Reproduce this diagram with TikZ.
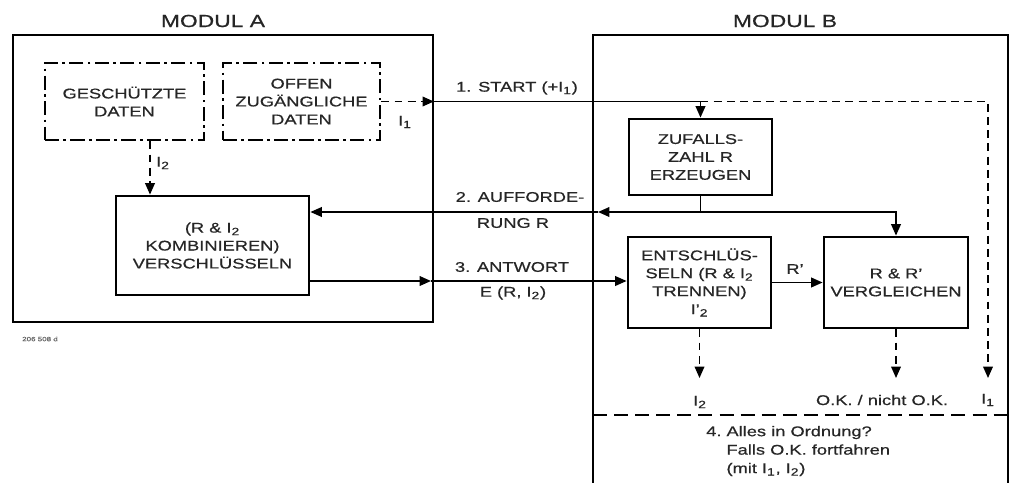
\documentclass[tikz,border=0pt]{standalone}
\usepackage{fontspec}
\setmainfont{Liberation Sans}[FakeStretch=1.3, FakeBold=0.6]
\usetikzlibrary{arrows.meta}
\newcommand{\Isub}[1]{I\textsubscript{#1}}
\begin{document}
\begin{tikzpicture}[x=.02cm, y=-.02cm,
    every node/.style={font=\fontsize{8}{10.2}\selectfont, text=black!85},
    block/.style={draw, line width=1.6pt, align=center, inner sep=1pt},
    datbox/.style={block, dash pattern=on 8pt off 2.5pt on 1.5pt off 2.5pt},
    modul/.style={draw, line width=1.1pt, inner sep=0pt},
    titel/.style={font=\fontsize{10}{12}\selectfont},
    flow/.style={line width=.9pt, -{Triangle[length=6.5pt,width=5.5pt]}},
    dflow/.style={flow, dash pattern=on 4.5pt off 3pt},
    trenn/.style={line width=1pt, dash pattern=on 8pt off 4pt}]
    \useasboundingbox (0,0) rectangle (1011,483);

    % Modul A und Modul B.
    \node[modul, minimum width=8.4cm, minimum height=5.74cm] (modA) at (223,178.5) {};
    \node[titel] (titelA) at (213,21) {MODUL A};
    \draw[line width=1.1pt] (593,483) -- (593,35) -- (1008,35) -- (1008,483);
    \node[titel] (titelB) at (785,21) {MODUL B};

    % Datenbereiche und Bloecke.
    \node[datbox, minimum width=3.18cm, minimum height=1.54cm] (geschuetzt) at (124.5,101.5) {GESCHÜTZTE\\DATEN};
    \node[datbox, minimum width=3.14cm, minimum height=1.54cm] (offen) at (301.5,101.5) {OFFEN\\ZUGÄNGLICHE\\DATEN};
    \node[block, minimum width=3.86cm, minimum height=1.98cm] (verschl) at (212.5,245.5) {(R \& \Isub{2}\\KOMBINIEREN)\\VERSCHLÜSSELN};
    \node[block, minimum width=2.86cm, minimum height=1.52cm] (zufall) at (700.5,157) {ZUFALLS-\\ZAHL R\\ERZEUGEN};
    \node[block, minimum width=2.86cm, minimum height=1.82cm] (entschl) at (699.5,282.5) {ENTSCHLÜS-\\SELN (R \& \Isub{2}\\TRENNEN)\\I'\textsubscript{2}};
    \node[block, minimum width=2.88cm, minimum height=1.82cm] (vergl) at (896,282.5) {R \& R'\\VERGLEICHEN};

    % 1. Start (+I1).
    \coordinate (eckeA1) at (modA.east |- offen.east);
    \coordinate (abzweig1) at (zufall.north |- offen.east);
    \coordinate (endeI1) at (988,378);
    \draw[dflow] (offen.east) -- (eckeA1);
    \draw[flow] (eckeA1) -| (zufall.north);
    \draw[dflow] (abzweig1) -| (endeI1);

    % 2. Aufforderung R.
    \coordinate (abzweig2) at (700.5,212);
    \coordinate (eckeB2) at (598,212);
    \draw[line width=.9pt] (zufall.south) -- (abzweig2);
    \draw[flow] (abzweig2) -- (eckeB2);
    \draw[flow] (eckeB2) -- (verschl.east |- eckeB2);
    \draw[flow] (abzweig2) -| (vergl.north);

    % 3. Antwort E(R, I2).
    \coordinate (eckeA3) at (431,281);
    \draw[flow] (verschl.east |- eckeA3) -- (eckeA3);
    \draw[flow] (eckeA3) -- (entschl.west |- eckeA3);
    \draw[flow] (entschl.east) -- (vergl.west);

    % I2 aus den geschuetzten Daten, Ausgaenge von Modul B.
    \coordinate (spalteI2) at (150,0);
    \draw[dflow] (geschuetzt.south -| spalteI2) -- (verschl.north -| spalteI2);
    \coordinate (endeI2) at (entschl.south |- endeI1);
    \coordinate (endeOK) at (vergl.south |- endeI1);
    \draw[dflow] (entschl.south) -- (endeI2);
    \draw[dflow] (vergl.south) -- (endeOK);
    \draw[trenn] (593,415) -- (1008,415);

    % Beschriftungen.
    \node (lblI1) at (405,122) {\Isub{1}};
    \node (lblI2) at (163,163) {\Isub{2}};
    \node (lblStart) at (517,88) {1. START (+\Isub{1})};
    \node (lblAuff) at (520,197) {2. AUFFORDE-};
    \node (lblRung) at (513,223) {RUNG R};
    \node (lblAntw) at (512,267) {3. ANTWORT};
    \node (lblE) at (513,293) {E (R, \Isub{2})};
    \node (lblR) at (795,269) {R'};
    \node (ausI2) at (700,402) {\Isub{2}};
    \node (ausOK) at (882,400) {O.K. / nicht O.K.};
    \node (ausI1) at (988,400) {\Isub{1}};
    \node[anchor=west, align=left, font=\fontsize{8}{10.5}\selectfont] (frage) at (700,451)
        {4.~Alles in Ordnung?\\\hphantom{4.~}Falls O.K. fortfahren\\\hphantom{4.~}(mit \Isub{1}, \Isub{2})};
    \node[font=\fontsize{3.5}{4}\selectfont, text=black!60] (bildnr) at (40,339) {206 508 d};
\end{tikzpicture}
\end{document}
